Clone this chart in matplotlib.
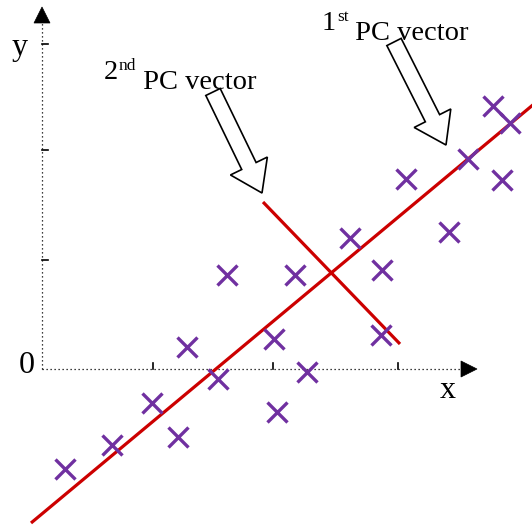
import matplotlib
matplotlib.use("Agg")
import matplotlib.pyplot as plt
from matplotlib.patches import FancyArrow, Polygon

plt.rcParams['font.family'] = ['Liberation Serif', 'DejaVu Serif']

# Sample observations (x, y)
xs = [23, 70, 110, 136, 145, 176, 185, 232, 235, 253,
      265, 308, 340, 339, 364, 407, 426, 451, 460, 468]
ys = [-100, -76, -34, -68, 22, -10, 94, 30, -43, 94,
      -3, 131, 99, 34, 190, 137, 210, 263, 189, 246]

# Principal component lines (end points)
pc1_x = [-11, 492]
pc1_y = [-154, 265]
pc2_x = [221, 358]
pc2_y = [167, 25]

# Axis ticks
xticks = [111, 231, 356]
yticks = [109, 219, 325]

fig = plt.figure(figsize=(5.32, 5.29), dpi=100)
ax = fig.add_axes([0, 0, 1, 1])
ax.set_xlim(-42, 490)
ax.set_ylim(-160, 369)
ax.axis('off')

# Dotted axes with arrowheads
ax.plot([0, 419], [0, 0], color='black', lw=0.9, ls=(0, (1, 2.2)), zorder=1)
ax.plot([0, 0], [0, 346], color='black', lw=0.9, ls=(0, (1, 2.2)), zorder=1)
ax.add_patch(Polygon([[419, -8], [419, 8], [435, 0]], closed=True,
                     facecolor='black', edgecolor='black', lw=0.5))
ax.add_patch(Polygon([[-8, 346], [8, 346], [0, 362]], closed=True,
                     facecolor='black', edgecolor='black', lw=0.5))
for t in xticks:
    ax.plot([t, t], [0, 6], color='black', lw=1.2)
for t in yticks:
    ax.plot([0, 6], [t, t], color='black', lw=1.2)

ax.text(-22, 314, 'y', fontsize=23, ha='center', va='baseline')
ax.text(-15, -4, '0', fontsize=23, ha='center', va='baseline')
ax.text(406, -29, 'x', fontsize=23, ha='center', va='baseline')

# Principal component lines
ax.plot(pc1_x, pc1_y, color='#CC0000', lw=2.3, solid_capstyle='butt', zorder=2)
ax.plot(pc2_x, pc2_y, color='#CC0000', lw=2.3, solid_capstyle='butt', zorder=2)

# Data points
ax.plot(xs, ys, ls='none', marker='x', ms=15, mew=2.4, color='#7030A0', zorder=3)

# Hollow pointer arrows with captions
for (x0, y0, dx, dy) in [(352, 327, 52, -103), (171, 277, 49, -101)]:
    ax.add_patch(FancyArrow(x0, y0, dx, dy, width=16, head_width=41,
                            head_length=30, length_includes_head=True,
                            facecolor='white', edgecolor='black', lw=1.2,
                            zorder=4))


def ordinal_caption(x, y, num, suffix, rest):
    """Draw e.g. '1st PC vector' with a raised, smaller suffix."""
    t1 = ax.text(x, y, num, fontsize=20.5, ha='left', va='baseline')
    t2 = ax.annotate(suffix, xy=(1, 0), xycoords=t1, xytext=(0.5, 10.5),
                     textcoords='offset points', fontsize=12.5,
                     ha='left', va='baseline')
    ax.annotate(rest, xy=(1, 0), xycoords=t2, xytext=(0, -10.5),
                textcoords='offset points', fontsize=20.5,
                ha='left', va='baseline')


ordinal_caption(280, 339, '1', 'st', ' PC vector')
ordinal_caption(62, 290, '2', 'nd', ' PC vector')

fig.savefig('out.png', dpi=100)
